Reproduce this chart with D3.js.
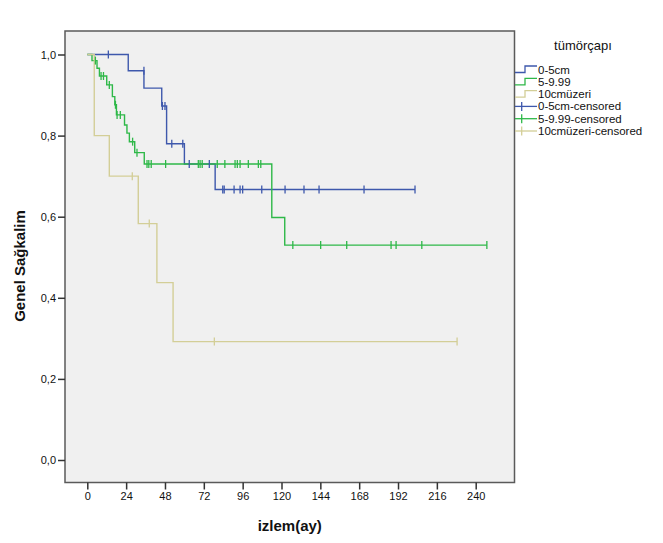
<!DOCTYPE html>
<html>
<head>
<meta charset="utf-8">
<script src="https://cdn.jsdelivr.net/npm/d3@7"></script>
<style>
  body { margin: 0; background: #fff; }
  svg { display: block; }
  text { font-family: "Liberation Sans", Arial, sans-serif; fill: #111; }
</style>
</head>
<body>
<svg id="chart" width="663" height="543"></svg>
<script>
// ---- data ----
const groups = ["0-5cm", "5-9.99", "10cmüzeri"];
const colors = ["#3e58ac", "#2eb848", "#d3ce97"];

// survival steps: [time (months), survival after event]
const steps05 = [[25.3,0.96],[35,0.917],[46,0.873],[49,0.78],[60,0.73],[79,0.667]];
const steps599 = [[2.9,0.985],[6,0.966],[7.5,0.947],[12,0.925],[15.5,0.896],[17,0.876],[18,0.851],
                  [23,0.826],[24.5,0.806],[26,0.785],[29.3,0.758],[35.2,0.73],[114,0.598],[122,0.53]];
const steps10 = [[4.3,0.8],[13.6,0.7],[31.5,0.583],[43,0.4375],[53,0.292]];

// censored observations: [time, survival]
const cens05 = [[13,1.0],[35,0.96],[46.4,0.873],[48,0.873],[52.2,0.78],[59,0.78],[63,0.73],[75.4,0.73],
                [83.7,0.667],[84.6,0.667],[90.7,0.667],[94.4,0.667],[96,0.667],[107.8,0.667],[122.2,0.667],
                [133.9,0.667],[143.2,0.667],[171,0.667],[202.5,0.667]];
const cens599 = [[5,0.985],[8.5,0.947],[10,0.947],[13.6,0.925],[17.4,0.876],[18.4,0.851],[20.4,0.851],
                 [28,0.785],[30.7,0.758],[36.9,0.73],[38,0.73],[39.5,0.73],[48.4,0.73],[68.6,0.73],[69.7,0.73],
                 [71,0.73],[80.3,0.73],[85,0.73],[91.3,0.73],[92.7,0.73],[94.4,0.73],[99.5,0.73],[105.7,0.73],
                 [107.2,0.73],[127,0.53],[144.2,0.53],[160.3,0.53],[187.7,0.53],[190.8,0.53],[206.7,0.53],[246.9,0.53]];
const cens10 = [[27.8,0.7],[38.3,0.583],[78.5,0.292],[228.5,0.292]];

const xTicks = [0,24,48,72,96,120,144,168,192,216,240];
const yTicks = [0,0.2,0.4,0.6,0.8,1.0];
const legendTitle = "tümörçapı";
const legendLabels = ["0-5cm","5-9.99","10cmüzeri","0-5cm-censored","5-9.99-censored","10cmüzeri-censored"];
const xTitle = "izlem(ay)";
const yTitle = "Genel Sağkalim";

// ---- layout ----
const svg = d3.select("#chart");
const box = {left: 65, right: 514.5, top: 31, bottom: 482.5};
const x = d3.scaleLinear().domain([0, 240]).range([87.3, 475.7]);
const y = d3.scaleLinear().domain([0, 1]).range([460, 54.5]);

svg.append("rect")
  .attr("x", box.left).attr("y", box.top)
  .attr("width", box.right - box.left).attr("height", box.bottom - box.top)
  .attr("fill", "#f0f0f0").attr("stroke", "#5a5a5a").attr("stroke-width", 1.5);

// axes
const fmt = d => d3.format(".1f")(d).replace(".", ",");
const yAxis = d3.axisLeft(y).tickValues(yTicks).tickFormat(fmt).tickSize(7).tickPadding(2);
const gy = svg.append("g").attr("transform", `translate(${box.left},0)`).call(yAxis);
gy.select(".domain").remove();
gy.selectAll("line").attr("stroke", "#333").attr("stroke-width", 1.5);
gy.selectAll("text").style("font-size", "11px").style("font-family", "Liberation Sans, Arial, sans-serif").attr("fill", "#111");

const xAxis = d3.axisBottom(x).tickValues(xTicks).tickFormat(d3.format("d")).tickSize(7).tickPadding(3);
const gx = svg.append("g").attr("transform", `translate(0,${box.bottom})`).call(xAxis);
gx.select(".domain").remove();
gx.selectAll("line").attr("stroke", "#333").attr("stroke-width", 1.5);
gx.selectAll("text").style("font-size", "11px").style("font-family", "Liberation Sans, Arial, sans-serif").attr("fill", "#111");

svg.append("text").attr("x", (box.left + box.right) / 2).attr("y", 531)
  .attr("text-anchor", "middle").style("font-size", "15px").style("font-weight", "bold").text(xTitle);
svg.append("text").attr("transform", "translate(25,266) rotate(-90)")
  .attr("text-anchor", "middle").style("font-size", "15px").style("font-weight", "bold").text(yTitle);

// curves
const allSteps = [steps05, steps599, steps10];
const allCens = [cens05, cens599, cens10];
const line = d3.line().x(d => x(d[0])).y(d => y(d[1])).curve(d3.curveStepAfter);

allSteps.forEach((st, i) => {
  const cs = allCens[i];
  const lastT = d3.max(cs.concat(st), d => d[0]);
  const pts = [[0, 1]].concat(st);
  pts.push([lastT, pts[pts.length - 1][1]]);
  svg.append("path").datum(pts).attr("d", line)
    .attr("fill", "none").attr("stroke", colors[i]).attr("stroke-width", 1.4);
});
allCens.forEach((cs, i) => {
  svg.append("g").selectAll("line").data(cs).join("line")
    .attr("x1", d => x(d[0])).attr("x2", d => x(d[0]))
    .attr("y1", d => y(d[1]) - 4).attr("y2", d => y(d[1]) + 4)
    .attr("stroke", colors[i]).attr("stroke-width", 1.3);
});

// legend
svg.append("text").attr("x", 583).attr("y", 50).attr("text-anchor", "middle")
  .style("font-size", "13px").attr("fill", "#222").text(legendTitle);
legendLabels.forEach((lab, k) => {
  const cy = 69.5 + k * 12.3;
  const c = colors[k % 3];
  if (k < 3) {
    svg.append("path")
      .attr("d", `M515,${cy + 3}H525V${cy - 3.5}H537`)
      .attr("fill", "none").attr("stroke", c).attr("stroke-width", 1.3);
  } else {
    svg.append("line").attr("x1", 515).attr("x2", 537).attr("y1", cy).attr("y2", cy)
      .attr("stroke", c).attr("stroke-width", 1.3);
    svg.append("line").attr("x1", 521.7).attr("x2", 521.7).attr("y1", cy - 4.5).attr("y2", cy + 4.5)
      .attr("stroke", c).attr("stroke-width", 1.3);
  }
  svg.append("text").attr("x", 538).attr("y", cy + 4)
    .style("font-size", "11.5px").attr("fill", "#111").text(lab);
});
</script>
</body>
</html>
